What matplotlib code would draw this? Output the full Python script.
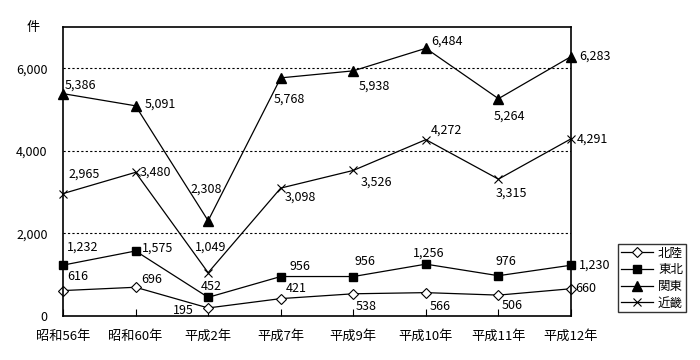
import matplotlib
matplotlib.use("Agg")
import matplotlib.pyplot as plt

plt.rcParams["font.family"] = ["Noto Sans CJK JP", "DejaVu Sans"]

# データ
years = ["昭和56年", "昭和60年", "平成2年", "平成7年", "平成9年", "平成10年", "平成11年", "平成12年"]
hokuriku = [616, 696, 195, 421, 538, 566, 506, 660]
tohoku = [1232, 1575, 452, 956, 956, 1256, 976, 1230]
kanto = [5386, 5091, 2308, 5768, 5938, 6484, 5264, 6283]
kinki = [2965, 3480, 1049, 3098, 3526, 4272, 3315, 4291]

# ラベル位置のずらし量（ピクセル, 左端基準, 上が正）
off_hokuriku = [(4, 14), (6, 8), (-35, -3), (5, 10), (2, -13), (4, -14), (3, -10), (4, 0)]
off_tohoku = [(4, 18), (6, 3), (-7, 11), (9, 10), (1, 15), (-13, 11), (-3, 14), (8, 0)]
off_kanto = [(2, 8), (9, 2), (-18, 32), (-7, -21), (5, -15), (5, 7), (-5, -17), (8, 0)]
off_kinki = [(5, 19), (4, 0), (-13, 26), (4, -9), (7, -12), (5, 9), (-3, -14), (6, 0)]

series = [
    ("北陸", hokuriku, off_hokuriku, dict(marker="D", markersize=5.5, markerfacecolor="white", markeredgewidth=0.8)),
    ("東北", tohoku, off_tohoku, dict(marker="s", markersize=6, markerfacecolor="black")),
    ("関東", kanto, off_kanto, dict(marker="^", markersize=7, markerfacecolor="black")),
    ("近畿", kinki, off_kinki, dict(marker="x", markersize=6, markeredgewidth=0.8)),
]

fig = plt.figure(figsize=(7, 3.6), dpi=100)
ax = fig.add_axes([63 / 700, 1 - 316 / 360, 508 / 700, 289 / 360])

x = list(range(len(years)))
for name, vals, offs, style in series:
    ax.plot(x, vals, color="black", linewidth=0.9, label=name, clip_on=False, **style)
    for xi, v, (dx, dy) in zip(x, vals, offs):
        ax.annotate(f"{v:,}", (xi, v), xytext=(dx, dy), textcoords="offset pixels",
                    ha="left", va="center", fontsize=9)

ax.set_xlim(0, len(years) - 1)
ax.set_ylim(0, 7000)
ax.set_xticks(x)
ax.set_xticklabels(years, fontsize=9.5)
ax.set_yticks([0, 2000, 4000, 6000])
ax.set_yticklabels(["0", "2,000", "4,000", "6,000"], fontsize=9)
ax.tick_params(axis="x", direction="in", length=5, width=0.8, pad=10)
ax.tick_params(axis="y", length=0, pad=11)

for yv in [2000, 4000, 6000]:
    ax.axhline(yv, color="black", linewidth=0.8, linestyle=(0, (2, 2)), zorder=0)

for sp in ax.spines.values():
    sp.set_linewidth(1.2)

fig.text(33 / 700, 1 - 27 / 360, "件", ha="center", va="center", fontsize=9.5)

leg = fig.legend(loc="upper left", bbox_to_anchor=(618 / 700, 1 - 244 / 360), fontsize=9,
                 frameon=True, fancybox=False, edgecolor="black", borderpad=0.2,
                 labelspacing=0.3, handlelength=2.6, handletextpad=0.4, borderaxespad=0)
leg.get_frame().set_linewidth(1.0)

fig.savefig("out.png", dpi=100)
